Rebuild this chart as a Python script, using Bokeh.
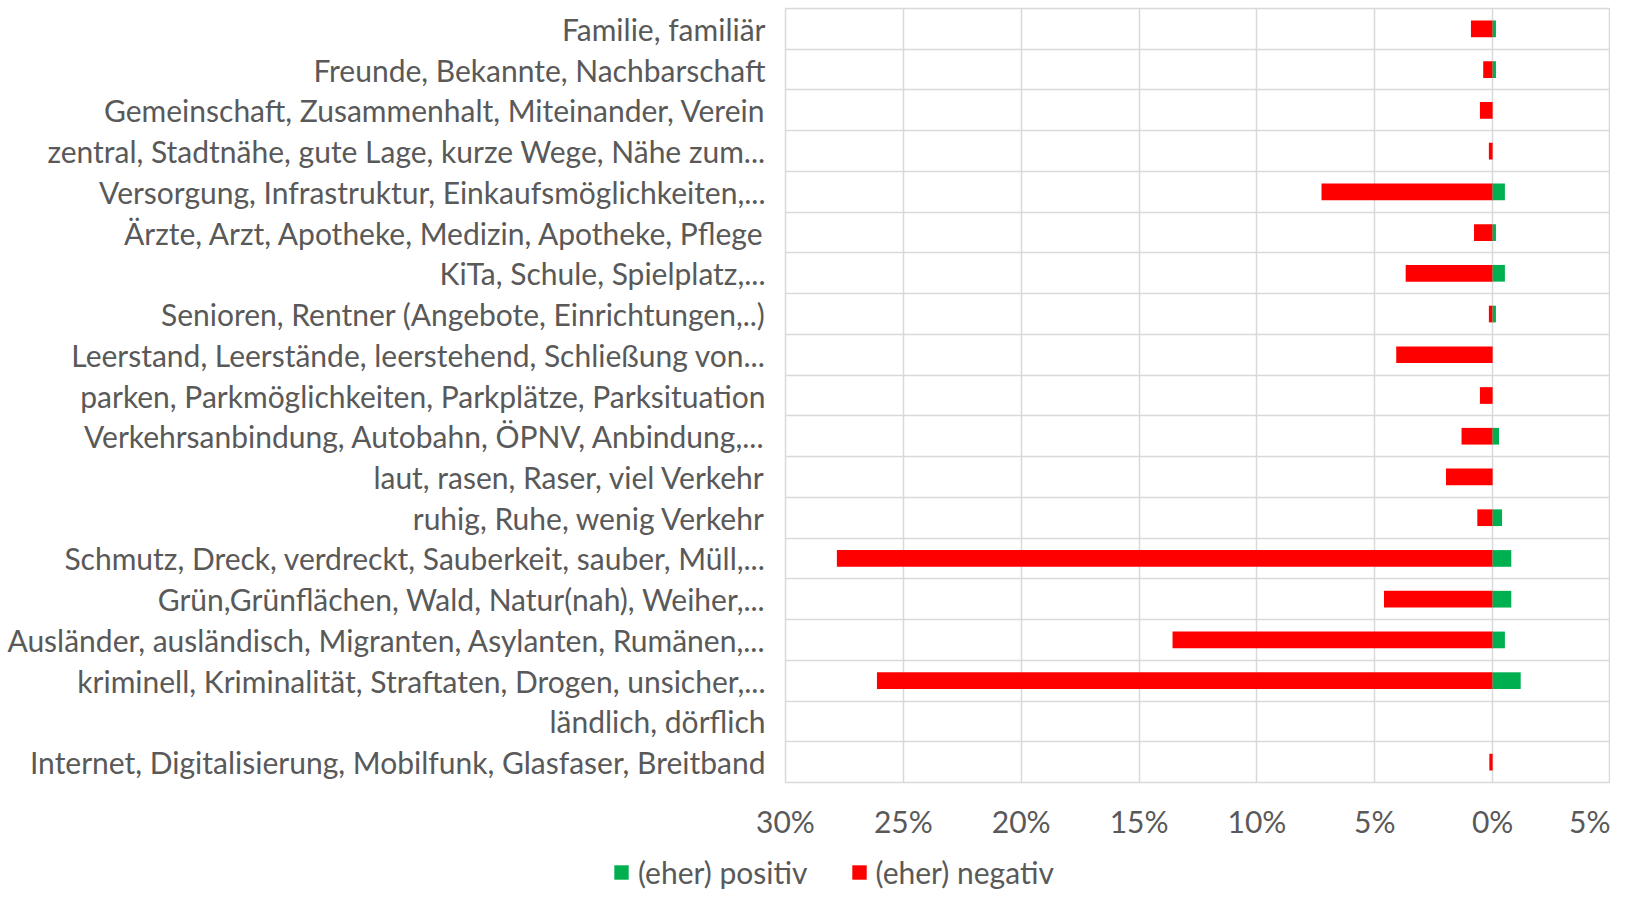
from bokeh.plotting import figure
from bokeh.layouts import column
from bokeh.models import Range1d, FixedTicker, Legend, LegendItem, ColumnDataSource
from bokeh.embed import file_html
from bokeh.resources import INLINE

categories = [
    "Familie, familiär",
    "Freunde, Bekannte, Nachbarschaft",
    "Gemeinschaft, Zusammenhalt, Miteinander, Verein",
    "zentral, Stadtnähe, gute Lage, kurze Wege, Nähe zum...",
    "Versorgung, Infrastruktur, Einkaufsmöglichkeiten,...",
    "Ärzte, Arzt, Apotheke, Medizin, Apotheke, Pflege",
    "KiTa, Schule, Spielplatz,...",
    "Senioren, Rentner (Angebote, Einrichtungen,..)",
    "Leerstand, Leerstände, leerstehend, Schließung von...",
    "parken, Parkmöglichkeiten, Parkplätze, Parksituation",
    "Verkehrsanbindung, Autobahn, ÖPNV, Anbindung,...",
    "laut, rasen, Raser, viel Verkehr",
    "ruhig, Ruhe, wenig Verkehr",
    "Schmutz, Dreck, verdreckt, Sauberkeit, sauber, Müll,...",
    "Grün,Grünflächen, Wald, Natur(nah), Weiher,...",
    "Ausländer, ausländisch, Migranten, Asylanten, Rumänen,...",
    "kriminell, Kriminalität, Straftaten, Drogen, unsicher,...",
    "ländlich, dörflich",
    "Internet, Digitalisierung, Mobilfunk, Glasfaser, Breitband",
]
positiv = [0.14, 0.14, 0.0, 0.0, 0.52, 0.14, 0.52, 0.14, 0.0, 0.0,
           0.27, 0.0, 0.40, 0.79, 0.79, 0.52, 1.19, 0.0, 0.0]
negativ = [0.92, 0.40, 0.54, 0.16, 7.26, 0.79, 3.69, 0.16, 4.09, 0.54,
           1.32, 1.98, 0.65, 27.82, 4.61, 13.58, 26.12, 0.0, 0.14]
x_ticks = [-30, -25, -20, -15, -10, -5, 0, 5]
x_tick_labels = ["30%", "25%", "20%", "15%", "10%", "5%", "0%", "5%"]
series_names = ["(eher) positiv", "(eher) negativ"]
series_colors = ["#00B050", "#FF0000"]

FONT = "Lato"
TXT = "#595959"
GRID = "#d9d9d9"

n = len(categories)
idx = list(range(n))
src = ColumnDataSource(dict(
    y=idx,
    pos=positiv,
    neg=[-v for v in negativ],
    zero=[0.0] * n,
))

p = figure(
    width=1646, height=850,
    frame_width=825, frame_height=774,
    x_range=Range1d(-30, 5),
    y_range=Range1d(n - 0.5, -0.5),
    output_backend="svg", toolbar_location=None,
    min_border_left=785, min_border_right=0, min_border_top=8, min_border_bottom=0,
)
p.frame_align = False

p.hbar(y="y", left="neg", right="zero", height=0.41, source=src,
       fill_color=series_colors[1], line_color=None)
p.hbar(y="y", left="zero", right="pos", height=0.41, source=src,
       fill_color=series_colors[0], line_color=None)

# x axis
p.xaxis.ticker = FixedTicker(ticks=x_ticks)
p.xaxis.major_label_overrides = {t: l for t, l in zip(x_ticks, x_tick_labels)}
p.xaxis.axis_line_color = None
p.xaxis.major_tick_line_color = None
p.xaxis.minor_tick_line_color = None
p.xaxis.major_label_standoff = 14
p.xaxis.major_label_text_font = FONT
p.xaxis.major_label_text_font_size = "30px"
p.xaxis.major_label_text_color = TXT

# y axis
p.yaxis.ticker = FixedTicker(ticks=idx)
p.yaxis.major_label_overrides = {i: c for i, c in zip(idx, categories)}
p.yaxis.axis_line_color = None
p.yaxis.major_tick_line_color = None
p.yaxis.minor_tick_line_color = None
p.yaxis.major_label_standoff = 14
p.yaxis.major_label_text_font = FONT
p.yaxis.major_label_text_font_size = "30px"
p.yaxis.major_label_text_color = TXT

# grids
p.xgrid.ticker = FixedTicker(ticks=x_ticks)
p.xgrid.grid_line_color = GRID
p.xgrid.grid_line_width = 1.5
p.ygrid.ticker = FixedTicker(ticks=[i + 0.5 for i in range(-1, n)])
p.ygrid.grid_line_color = GRID
p.ygrid.grid_line_width = 1.5
p.outline_line_color = GRID
p.outline_line_width = 1.5

# legend strip below the chart (its proxy bars lie outside this strip's view)
lg = figure(
    width=1646, height=49,
    x_range=Range1d(1000, 1001), y_range=Range1d(1000, 1001),
    output_backend="svg", toolbar_location=None,
    x_axis_location=None, y_axis_location=None,
    min_border_left=0, min_border_right=0, min_border_top=0, min_border_bottom=0,
)
lg.frame_align = False
lg.grid.visible = False
lg.outline_line_color = None
rp = lg.hbar(y="y", left="zero", right="pos", height=0.41, source=src,
             fill_color=series_colors[0], line_color=None)
rn = lg.hbar(y="y", left="neg", right="zero", height=0.41, source=src,
             fill_color=series_colors[1], line_color=None)

legend = Legend(
    items=[LegendItem(label=series_names[0], renderers=[rp]),
           LegendItem(label=series_names[1], renderers=[rn])],
    orientation="horizontal",
    location=(612, 0),
    label_text_font=FONT, label_text_font_size="30px", label_text_color=TXT,
    glyph_width=18, glyph_height=18, label_standoff=8, spacing=42,
    padding=0, margin=0, border_line_color=None, background_fill_alpha=0,
)
lg.add_layout(legend, "center")

layout = column(p, lg, spacing=0)
open("out.html", "w").write(file_html(layout, INLINE))
